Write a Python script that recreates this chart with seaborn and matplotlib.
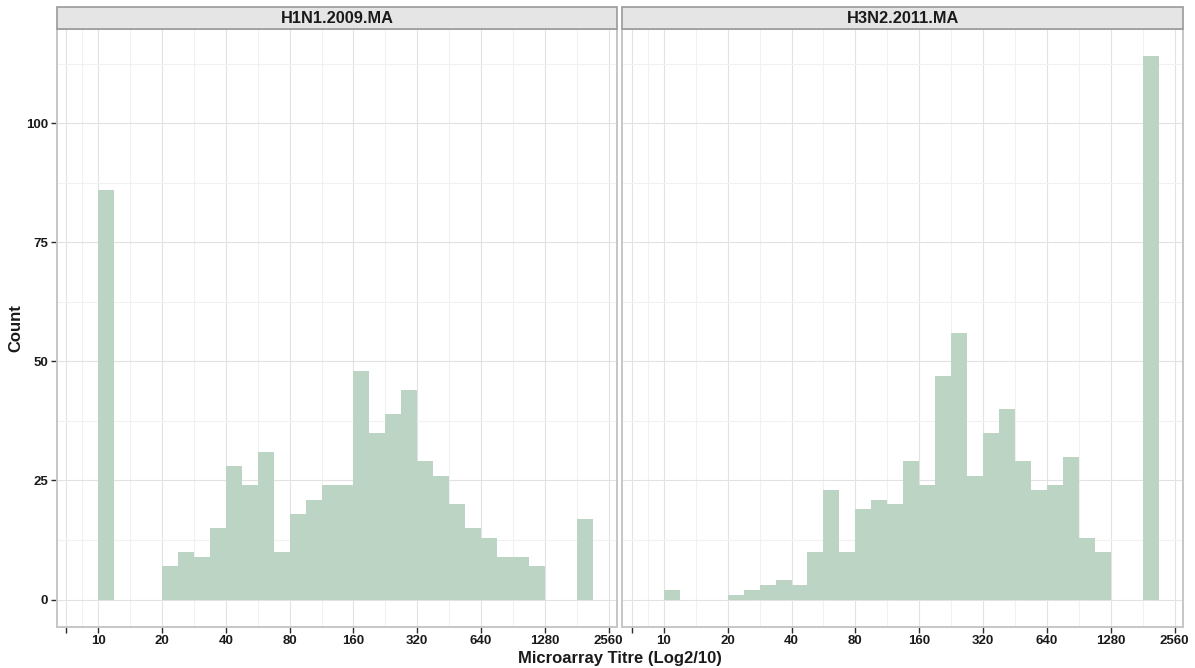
import numpy as np
import pandas as pd
import matplotlib
matplotlib.use("Agg")
import matplotlib.pyplot as plt
from matplotlib.patches import Rectangle
from matplotlib.ticker import FixedLocator, FixedFormatter
import seaborn as sns

# Histogram counts of log2(titre/10), bins of width 0.25 starting at 0
panels = ["H1N1.2009.MA", "H3N2.2011.MA"]
bin_starts = np.arange(0, 7.75, 0.25)
h1n1_counts = [86, 0, 0, 0, 7, 10, 9, 15, 28, 24, 31, 10, 18, 21, 24, 24,
               48, 35, 39, 44, 29, 26, 20, 15, 13, 9, 9, 7, 0, 0, 17]
h3n2_counts = [2, 0, 0, 0, 1, 2, 3, 4, 3, 10, 23, 10, 19, 21, 20, 29,
               24, 47, 56, 26, 35, 40, 29, 23, 24, 30, 13, 10, 0, 0, 114]
x_ticks = [-0.5, 0, 1, 2, 3, 4, 5, 6, 7, 8]
x_tick_labels = ["", "10", "20", "40", "80", "160", "320", "640", "1280", "2560"]
y_ticks = [0, 25, 50, 75, 100]

bin_width = 0.25
bin_range = (float(bin_starts[0]), float(bin_starts[-1] + bin_width))

df = pd.concat([
    pd.DataFrame({"panel": name, "log2titre": bin_starts + bin_width / 2, "count": counts})
    for name, counts in zip(panels, [h1n1_counts, h3n2_counts])
], ignore_index=True)

sns.set_style("white")
plt.rcParams["font.family"] = ["Liberation Sans", "DejaVu Sans"]

W, H = 1195, 668
fig = plt.figure(figsize=(W / 100, H / 100), dpi=100)

def px_axes(x0, x1, y0, y1):
    return fig.add_axes([x0 / W, 1 - y1 / H, (x1 - x0) / W, (y1 - y0) / H])

ax_positions = [(56.7, 617.3), (622.3, 1183.3)]
top_px, bottom_px = 29.3, 626.7
strip_top = 7.3

bar_color = "#bcd4c4"
grid_major = "#e2e2e2"
grid_minor = "#f1f1f1"
border = "#c6c6c6"

x_minor = [-0.25] + [k + 0.5 for k in range(8)]
y_minor = [12.5, 37.5, 62.5, 87.5, 112.5]

for i, (name, (x0, x1)) in enumerate(zip(panels, ax_positions)):
    ax = px_axes(x0, x1, top_px, bottom_px)
    sub = df[df["panel"] == name].reset_index(drop=True)
    sns.histplot(data=sub, x="log2titre", weights="count", binwidth=bin_width,
                 binrange=bin_range, color=bar_color, alpha=1, linewidth=0,
                 edgecolor="none", ax=ax)
    ax.set_xlim(-0.65, 8.135)
    ax.set_ylim(-5.7, 119.7)
    ax.set_xlabel("")
    ax.set_ylabel("")

    ax.xaxis.set_major_locator(FixedLocator(x_ticks))
    ax.xaxis.set_major_formatter(FixedFormatter(x_tick_labels))
    ax.xaxis.set_minor_locator(FixedLocator(x_minor))
    ax.yaxis.set_major_locator(FixedLocator(y_ticks))
    ax.yaxis.set_minor_locator(FixedLocator(y_minor))

    ax.set_axisbelow(True)
    ax.grid(which="major", color=grid_major, linewidth=0.8)
    ax.grid(which="minor", color=grid_minor, linewidth=0.8)

    for s in ax.spines.values():
        s.set_visible(True)
        s.set_color(border)
        s.set_linewidth(1.4)

    ax.tick_params(which="minor", length=0, bottom=False, left=False)
    ax.tick_params(axis="x", which="major", bottom=True, top=False, direction="out",
                   length=4, width=1.0, color="#2a2a2a",
                   pad=2.2, labelsize=9.5, labelcolor="#1a1a1a")
    ax.tick_params(axis="y", which="major", left=True, right=False, direction="out",
                   length=4, width=1.0, color="#2a2a2a",
                   pad=2.2, labelsize=9.5, labelcolor="#1a1a1a")
    for lab in ax.get_xticklabels() + ax.get_yticklabels():
        lab.set_fontweight("bold")
    if i == 1:
        ax.tick_params(axis="y", which="major", left=False, labelleft=False)

    # facet strip above the panel
    strip_h = (top_px - strip_top) / (bottom_px - top_px)
    ax.add_patch(Rectangle((0, 1), 1, strip_h, transform=ax.transAxes,
                           facecolor="#e5e5e5", edgecolor="#9a9a9a",
                           linewidth=1.2, clip_on=False, zorder=5))
    ax.text(0.5, 1 + strip_h / 2, name, transform=ax.transAxes,
            ha="center", va="center", fontsize=11.8, fontweight="bold",
            color="#1a1a1a", zorder=6)

fig.text(620 / W, 1 - 659 / H, "Microarray Titre (Log2/10)", ha="center", va="center",
         fontsize=12, fontweight="bold", color="#1a1a1a")
fig.text(16 / W, 1 - 328 / H, "Count", ha="center", va="center", rotation=90,
         fontsize=12, fontweight="bold", color="#1a1a1a")

fig.savefig("out.png", dpi=100)
